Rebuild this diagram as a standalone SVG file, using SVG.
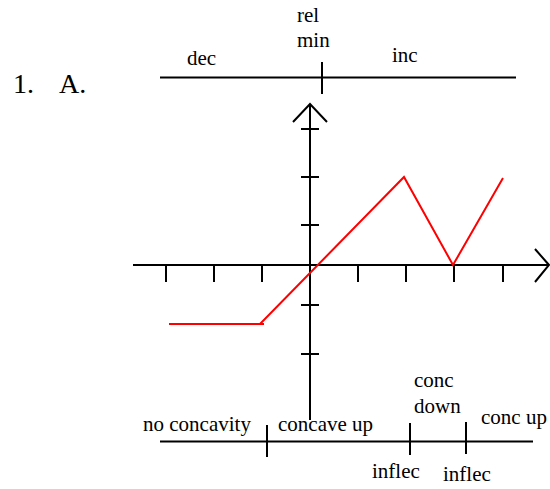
<svg xmlns="http://www.w3.org/2000/svg" width="550" height="489" viewBox="0 0 550 489">
<style>
text{font-family:"Liberation Serif","Times New Roman",serif;font-size:21px;fill:#000}
.big{font-size:28px}
.k{stroke:#000;stroke-width:2;fill:none}
.r{stroke:#ff0000;stroke-width:2;fill:none}
</style>
<rect width="550" height="489" fill="#fff"/>
<g id="heading">
<text class="big" x="13" y="93">1.</text>
<text class="big" x="59" y="93">A.</text>
</g>
<g id="first-derivative-line">
<line class="k" x1="160" y1="77.5" x2="516" y2="77.5"/>
<line class="k" x1="322" y1="62" x2="322" y2="94"/>
<text x="187" y="65">dec</text>
<text x="297" y="22">rel</text>
<text x="297" y="47">min</text>
<text x="392" y="62">inc</text>
</g>
<g id="axes">
<line class="k" x1="310" y1="104" x2="310" y2="420"/>
<polyline class="k" points="293,122 310,104 327,122"/>
<line class="k" x1="133" y1="265" x2="549" y2="265"/>
<polyline class="k" points="535,249 549,265 535,282"/>
<path class="k" d="M301,129H319M301,177H319M301,225H319M301,305H319M301,354H319"/>
<path class="k" d="M166,265V282M214,265V282M262,265V282M358,265V282M406,265V282M454,265V282M503,265V282"/>
</g>
<g id="graph">
<line class="r" x1="169" y1="324" x2="264" y2="324"/>
<polyline class="r" points="260,324 404,177 453,265 503,178"/>
</g>
<g id="concavity-line">
<line class="k" x1="160" y1="441.5" x2="533" y2="441.5"/>
<line class="k" x1="267" y1="425" x2="267" y2="457"/>
<line class="k" x1="410" y1="423" x2="410" y2="455"/>
<line class="k" x1="466" y1="422" x2="466" y2="454"/>
<text x="143" y="431">no concavity</text>
<text x="278" y="431">concave up</text>
<text x="414" y="387">conc</text>
<text x="414" y="413">down</text>
<text x="481" y="424">conc up</text>
<text x="372" y="478">inflec</text>
<text x="443" y="481">inflec</text>
</g>
</svg>
